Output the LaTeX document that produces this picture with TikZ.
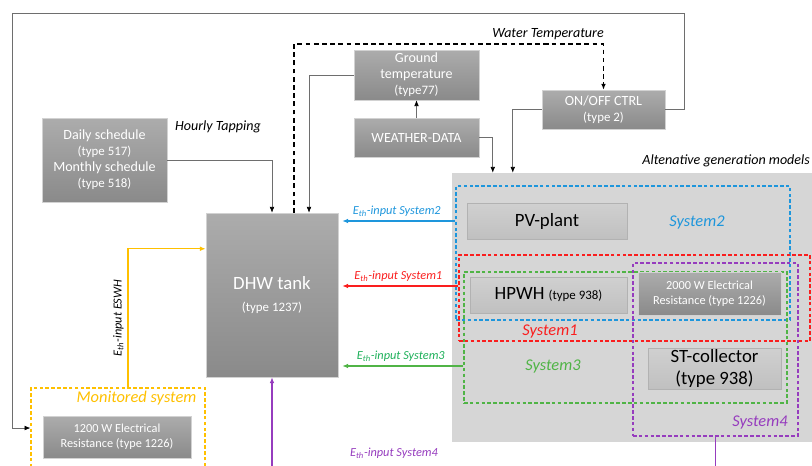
\documentclass[tikz,border=0pt]{standalone}
\usepackage{fontspec}
\setmainfont{Carlito}
\usetikzlibrary{arrows.meta}

\definecolor{boxtop}{RGB}{172,172,172}
\definecolor{boxbot}{RGB}{138,138,138}
\definecolor{lighttop}{RGB}{208,208,208}
\definecolor{lightbot}{RGB}{192,192,192}
\definecolor{altgray}{RGB}{214,214,214}
\definecolor{sysblue}{RGB}{30,150,220}
\definecolor{sysred}{RGB}{250,30,30}
\definecolor{sysgreen}{RGB}{80,180,70}
\definecolor{lblgreen}{RGB}{30,176,90}
\definecolor{syspurple}{RGB}{150,60,190}
\definecolor{sysyellow}{RGB}{255,192,0}
\definecolor{linegray}{RGB}{110,110,110}

\newcommand\typefont{\fontsize{11}{13.7}\selectfont}

\tikzset{
  darkbox/.style={shade, top color=boxtop, bottom color=boxbot, draw=gray!35, text=white,
    align=center, inner sep=1pt, font=\fontsize{12}{13.7}\selectfont},
  lightbox/.style={shade, top color=lighttop, bottom color=lightbot, draw=gray!60,
    align=center, inner sep=1pt, font=\fontsize{16}{19}\selectfont},
  sysframe/.style={draw=#1, dash pattern=on 3pt off 2pt, line width=0.9pt, inner sep=0pt},
  lbl/.style={font=\fontsize{12}{14}\selectfont\itshape},
  syslbl/.style={font=\fontsize{14}{16}\selectfont\itshape},
  inlbl/.style={font=\fontsize{10.5}{12}\selectfont\itshape},
  feed/.style={draw=linegray, line width=0.6pt, -{Latex[length=5pt,width=4pt,color=black]}},
  ctrl/.style={draw=black, line width=1.1pt, dash pattern=on 4pt off 3pt, -{Latex[length=5pt,width=4pt]}},
  flow/.style={draw=#1, line width=1pt, shorten >=1.2mm, -{Latex[length=5pt,width=4pt]}}
}

\begin{document}
\begin{tikzpicture}[x=0.3mm,y=-0.3mm]
  \clip (0,0) rectangle (812,465);

  % alternative generation area
  \node[fill=altgray, minimum width=108.9mm, minimum height=80.7mm, inner sep=0pt] (altgen) at (633.5,307.5) {};
  \node[lbl, anchor=south east] (altlab) at (814,171) {Altenative generation models};

  % system frames
  \node[sysframe=sysblue, minimum width=100.2mm, minimum height=40.2mm] (sys2) at (623,253) {};
  \node[sysframe=sysred, minimum width=105.3mm, minimum height=25.8mm] (sys1) at (634.5,298) {};
  \node[sysframe=sysgreen, minimum width=96.9mm, minimum height=39.3mm] (sys3) at (625.5,337.5) {};
  \node[sysframe=syspurple, minimum width=49.5mm, minimum height=51.9mm] (sys4) at (715.5,349.5) {};
  \node[sysframe=sysyellow, minimum width=52.2mm, minimum height=24mm] (monit) at (118,428) {};

  \node[syslbl, text=sysblue] (s2lab) at (697,222) {System2};
  \node[syslbl, text=sysred] (s1lab) at (550,332) {System1};
  \node[syslbl, text=sysgreen] (s3lab) at (553,366) {System3};
  \node[syslbl, text=syspurple] (s4lab) at (760,422) {System4};
  \node[syslbl, text=sysyellow] (mlab) at (136.5,398) {Monitored system};

  % models
  \node[darkbox, minimum width=37.5mm, minimum height=25.2mm] (sched) at (104.5,160)
    {Daily schedule\\{\typefont(type 517)}\\Monthly schedule\\{\typefont(type 518)}};
  \node[darkbox, minimum width=39.6mm, minimum height=49.2mm, font=\fontsize{16}{19}\selectfont] (tank) at (272,295)
    {DHW tank\\{\typefont(type 1237)}};
  \node[darkbox, minimum width=37.5mm, minimum height=15mm] (ground) at (416.5,75)
    {Ground\\temperature\\{\typefont(type77)}};
  \node[darkbox, minimum width=37.5mm, minimum height=11.7mm] (weather) at (416.5,137.5) {WEATHER-DATA};
  \node[darkbox, minimum width=36.9mm, minimum height=11.7mm] (onoff) at (603.5,109.5)
    {ON/OFF CTRL\\{\typefont(type 2)}};
  \node[darkbox, minimum width=44.4mm, minimum height=12.6mm, font=\fontsize{10.5}{13}\selectfont] (res1200) at (117,437)
    {1200 W Electrical\\Resistance (type 1226)};

  \node[lightbox, minimum width=48mm, minimum height=10.8mm] (pv) at (547,221) {PV-plant};
  \node[lightbox, minimum width=47.1mm, minimum height=10.8mm] (hpwh) at (548.5,295)
    {HPWH {\typefont(type 938)}};
  \node[darkbox, minimum width=42.9mm, minimum height=12.9mm, font=\fontsize{10.5}{13}\selectfont] (res2000) at (709.5,293.5)
    {2000 W Electrical\\Resistance (type 1226)};
  \node[lightbox, minimum width=39.9mm, minimum height=12.3mm, font=\fontsize{16}{19}\selectfont] (stcoll) at (714.5,368.5)
    {ST-collector\\(type 938)};

  % signal lines
  \coordinate (loopne) at (684,13);
  \coordinate (loopnw) at (12,13);
  \coordinate (wt) at (548,44);
  \draw[feed] (onoff.east) -| (loopne) -- (loopnw) |- (monit.west);
  \draw[feed] (sched.east) -| (tank.north);
  \draw[feed] (ground.west) -| ([xshift=11.1mm]tank.north);
  \draw[feed] (weather.north) -- (ground.south);
  \draw[feed] (weather.east) -| ([xshift=12.3mm]altgen.north west);
  \draw[feed] (onoff.west) -| ([xshift=18.3mm]altgen.north west);
  \draw[ctrl] ([xshift=6.6mm]tank.north) |- (wt) -| (onoff.north);
  \node[lbl, above] (wtlab) at (wt) {Water Temperature};
  \node[lbl] (htlab) at (218,127) {Hourly Tapping};

  % thermal inputs
  \coordinate (s1in) at ([yshift=3.6mm]sys1.west);
  \coordinate (s4out) at (715.5,470);
  \coordinate (s4in) at (272,470);
  \draw[flow=sysblue] (pv.west -| sys2.west) -- (pv.west -| tank.east)
    node[midway, above, inlbl, text=sysblue] {E\textsubscript{th}-input System2};
  \draw[flow=sysred] (s1in) -- (s1in -| tank.east)
    node[midway, above, inlbl, text=sysred] {E\textsubscript{th}-input System1};
  \draw[flow=sysgreen] (s3lab -| sys3.west) -- (s3lab -| tank.east)
    node[midway, above, inlbl, text=lblgreen] {E\textsubscript{th}-input System3};
  \draw[syspurple, line width=1pt] (sys4.south) -- (s4out);
  \draw[flow=syspurple, shorten >=0pt] (s4in) -- (tank.south);
  \node[inlbl, text=syspurple, anchor=east] (s4inlab) at (442,453) {E\textsubscript{th}-input System4};
  \draw[flow=sysyellow, shorten >=0pt] ([xshift=3mm]monit.north) |- ([yshift=-10.8mm]tank.north west)
    node[pos=0.25, sloped, above, inlbl] {E\textsubscript{th}-input ESWH};
\end{tikzpicture}
\end{document}
